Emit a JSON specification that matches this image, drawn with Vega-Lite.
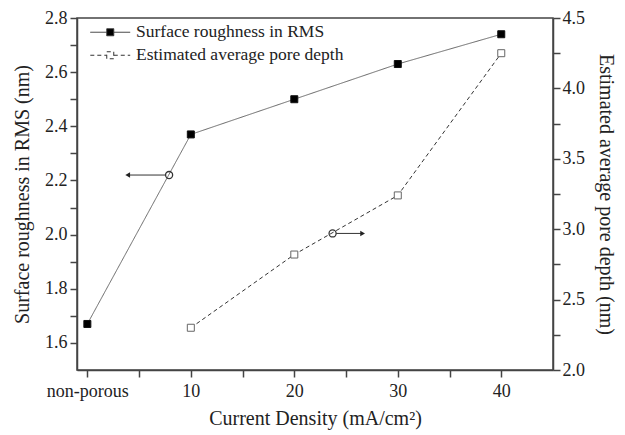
{
  "$schema": "https://vega.github.io/schema/vega-lite/v6.json",
  "width": 476,
  "height": 352,
  "autosize": "none",
  "padding": {"left": 77, "top": 18, "right": 72, "bottom": 65},
  "datasets": {
    "main": [
      {"x": 0, "series": "Surface roughness in RMS", "v": 1.67},
      {"x": 10, "series": "Surface roughness in RMS", "v": 2.37},
      {"x": 20, "series": "Surface roughness in RMS", "v": 2.50},
      {"x": 30, "series": "Surface roughness in RMS", "v": 2.63},
      {"x": 40, "series": "Surface roughness in RMS", "v": 2.74},
      {"x": 10, "series": "Estimated average pore depth", "v": 2.30},
      {"x": 20, "series": "Estimated average pore depth", "v": 2.82},
      {"x": 30, "series": "Estimated average pore depth", "v": 3.24},
      {"x": 40, "series": "Estimated average pore depth", "v": 4.25}
    ],
    "ann": [
      {"side": "L", "cx": 7.9, "rx": 7.55, "ax": 3.9, "v": 2.22},
      {"side": "R", "cx": 23.7, "rx": 24.05, "ax": 26.6, "v": 2.97}
    ]
  },
  "config": {
    "font": "Liberation Serif",
    "view": {"stroke": "#444", "strokeWidth": 1.5},
    "axis": {
      "grid": false,
      "domainColor": "#444",
      "domainWidth": 1.5,
      "tickColor": "#444",
      "tickWidth": 1.5,
      "tickSize": 7,
      "labelFont": "Liberation Serif",
      "labelFontSize": 18,
      "labelFontWeight": "normal",
      "labelColor": "#222",
      "titleFont": "Liberation Serif",
      "titleFontSize": 20,
      "titleFontWeight": "normal",
      "titleColor": "#222"
    },
    "legend": {
      "orient": "none",
      "legendX": 24.5,
      "legendY": 5.5,
      "padding": 0,
      "title": null,
      "labelFont": "Liberation Serif",
      "labelFontSize": 17.5,
      "labelColor": "#222",
      "labelLimit": 0,
      "labelOffset": 17,
      "rowPadding": 4,
      "symbolType": "M-5.7,0H-1M1,0H5.7M-1,-1H1V1H-1Z",
      "symbolSize": 49,
      "symbolStrokeWidth": 1,
      "symbolStrokeColor": "#333"
    }
  },
  "layer": [
    {
      "encoding": {
        "x": {
          "field": "x", "type": "quantitative",
          "scale": {"domain": [-1, 45], "nice": false, "zero": false},
          "axis": {
            "title": "Current Density (mA/cm²)",
            "values": [0, 5, 10, 15, 20, 25, 30, 35, 40],
            "labelExpr": "datum.value === 0 ? 'non-porous' : (datum.value % 10 === 0 ? datum.label : '')",
            "labelFont": "Liberation Serif",
            "labelFontWeight": "normal",
            "labelFontSize": 18,
            "labelPadding": 5,
            "labelFlush": false,
            "titleY": 48,
            "titleBaseline": "middle",
            "encode": {"ticks": {"update": {"y2": {"signal": "datum.value % 10 === 0 ? 7 : 4"}}}}
          }
        },
        "y": {
          "field": "v", "type": "quantitative",
          "scale": {"domain": [1.5, 2.8], "nice": false, "zero": false},
          "axis": {
            "title": "Surface roughness in RMS (nm)",
            "orient": "left",
            "values": [1.6, 1.7, 1.8, 1.9, 2.0, 2.1, 2.2, 2.3, 2.4, 2.5, 2.6, 2.7, 2.8],
            "labelExpr": "round(datum.value * 10) % 2 === 0 ? format(datum.value, '.1f') : ''",
            "labelFont": "Liberation Serif",
            "labelFontWeight": "normal",
            "labelFontSize": 18,
            "labelPadding": 3,
            "titleX": -55,
            "titleBaseline": "middle",
            "encode": {"ticks": {"update": {"x2": {"signal": "round(datum.value * 10) % 2 === 0 ? -7 : -4"}}}}
          }
        }
      },
      "layer": [
        {
          "data": {"name": "main"},
          "transform": [{"filter": "datum.series === 'Surface roughness in RMS'"}],
          "mark": {"type": "line", "color": "#666", "strokeWidth": 1},
          "encoding": {
            "strokeDash": {
              "field": "series", "type": "nominal",
              "scale": {"domain": ["Surface roughness in RMS", "Estimated average pore depth"], "range": [[1, 0], [4, 3]]},
              "sort": null
            }
          }
        },
        {
          "data": {"name": "main"},
          "transform": [{"filter": "datum.series === 'Surface roughness in RMS'"}],
          "mark": {"type": "point", "shape": "square", "size": 49, "filled": true, "fillOpacity": 1, "opacity": 1, "stroke": "#111", "strokeWidth": 1},
          "encoding": {
            "fill": {
              "field": "series", "type": "nominal",
              "scale": {"domain": ["Surface roughness in RMS", "Estimated average pore depth"], "range": ["#000000", "#ffffff"]},
              "sort": null
            }
          }
        },
        {
          "data": {"name": "ann"},
          "transform": [{"filter": "datum.side === 'L'"}],
          "mark": {"type": "rule", "color": "#333", "strokeWidth": 1},
          "encoding": {
            "x": {"field": "rx", "type": "quantitative"},
            "x2": {"field": "ax"}
          }
        },
        {
          "data": {"name": "ann"},
          "transform": [{"filter": "datum.side === 'L'"}],
          "mark": {"type": "point", "shape": "triangle-left", "size": 30, "filled": true, "color": "#222", "opacity": 1},
          "encoding": {
            "x": {"field": "ax", "type": "quantitative"}
          }
        },
        {
          "data": {"name": "ann"},
          "transform": [{"filter": "datum.side === 'L'"}],
          "mark": {"type": "point", "shape": "circle", "size": 50, "filled": false, "stroke": "#333", "strokeWidth": 1.3, "opacity": 1},
          "encoding": {
            "x": {"field": "cx", "type": "quantitative"}
          }
        }
      ]
    },
    {
      "encoding": {
        "x": {
          "field": "x", "type": "quantitative",
          "scale": {"domain": [-1, 45], "nice": false, "zero": false},
          "axis": {
            "title": "Current Density (mA/cm²)",
            "values": [0, 5, 10, 15, 20, 25, 30, 35, 40],
            "labelExpr": "datum.value === 0 ? 'non-porous' : (datum.value % 10 === 0 ? datum.label : '')",
            "labelFont": "Liberation Serif",
            "labelFontWeight": "normal",
            "labelFontSize": 18,
            "labelPadding": 5,
            "labelFlush": false,
            "titleY": 48,
            "titleBaseline": "middle",
            "encode": {"ticks": {"update": {"y2": {"signal": "datum.value % 10 === 0 ? 7 : 4"}}}}
          }
        },
        "y": {
          "field": "v", "type": "quantitative",
          "scale": {"domain": [2.0, 4.5], "nice": false, "zero": false},
          "axis": {
            "title": "Estimated average pore depth (nm)",
            "orient": "right",
            "values": [2.0, 2.25, 2.5, 2.75, 3.0, 3.25, 3.5, 3.75, 4.0, 4.25, 4.5],
            "labelExpr": "round(datum.value * 4) % 2 === 0 ? format(datum.value, '.1f') : ''",
            "labelFont": "Liberation Serif",
            "labelFontWeight": "normal",
            "labelFontSize": 18,
            "labelPadding": 2,
            "titleX": 52,
            "titleBaseline": "middle",
            "encode": {"ticks": {"update": {"x2": {"signal": "round(datum.value * 4) % 2 === 0 ? 7 : 4"}}}}
          }
        }
      },
      "layer": [
        {
          "data": {"name": "main"},
          "transform": [{"filter": "datum.series === 'Estimated average pore depth'"}],
          "mark": {"type": "line", "color": "#333", "strokeWidth": 1},
          "encoding": {
            "strokeDash": {
              "field": "series", "type": "nominal",
              "scale": {"domain": ["Surface roughness in RMS", "Estimated average pore depth"], "range": [[1, 0], [4, 3]]},
              "sort": null
            }
          }
        },
        {
          "data": {"name": "main"},
          "transform": [{"filter": "datum.series === 'Estimated average pore depth'"}],
          "mark": {"type": "point", "shape": "square", "size": 49, "filled": true, "fillOpacity": 1, "opacity": 1, "stroke": "#666", "strokeWidth": 1},
          "encoding": {
            "fill": {
              "field": "series", "type": "nominal",
              "scale": {"domain": ["Surface roughness in RMS", "Estimated average pore depth"], "range": ["#000000", "#ffffff"]},
              "sort": null
            }
          }
        },
        {
          "data": {"name": "ann"},
          "transform": [{"filter": "datum.side === 'R'"}],
          "mark": {"type": "rule", "color": "#333", "strokeWidth": 1},
          "encoding": {
            "x": {"field": "rx", "type": "quantitative"},
            "x2": {"field": "ax"}
          }
        },
        {
          "data": {"name": "ann"},
          "transform": [{"filter": "datum.side === 'R'"}],
          "mark": {"type": "point", "shape": "triangle-right", "size": 30, "filled": true, "color": "#222", "opacity": 1},
          "encoding": {
            "x": {"field": "ax", "type": "quantitative"}
          }
        },
        {
          "data": {"name": "ann"},
          "transform": [{"filter": "datum.side === 'R'"}],
          "mark": {"type": "point", "shape": "circle", "size": 50, "filled": false, "stroke": "#333", "strokeWidth": 1.3, "opacity": 1},
          "encoding": {
            "x": {"field": "cx", "type": "quantitative"}
          }
        }
      ]
    }
  ],
  "resolve": {"scale": {"y": "independent"}}
}
